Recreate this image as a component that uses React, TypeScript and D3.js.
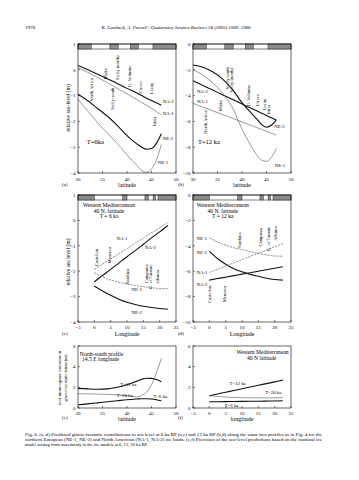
import React from 'react';
import * as d3 from 'd3';

const W = 359;
const H = 480;
const SERIF = '"Liberation Serif", "DejaVu Serif", serif';

// ---------- data ----------
const latGrid = [30, 32, 34, 36, 38, 40, 42, 43, 44, 45, 46, 47];
const lonGrid = [0, 2.5, 5, 7.5, 10, 12.5, 15, 17.5, 20, 22.5];

// (a) T = 6 ka, north-south profile
const aNA2 = [0.17, 0.0, -0.17, -0.35, -0.53, -0.72, -0.9, -1.0, -1.1, -1.19, -1.28, -1.37];
const aNA1 = [0.08, -0.1, -0.3, -0.5, -0.72, -0.93, -1.15, -1.27, -1.38, -1.5, -1.62, -1.75];
const aNE2 = [-0.95, -1.2, -1.5, -1.8, -2.15, -2.55, -2.87, -3.0, -3.08, -3.05, -2.85, -2.48];
const aNE1 = [-1.15, -1.6, -2.05, -2.45, -2.85, -3.3, -3.7, -3.9, -3.97, -3.85, -3.5, -2.9];

// (b) T = 12 ka, north-south profile
const bNE2 = [-1.63, -1.8, -2.15, -2.7, -3.5, -4.55, -5.4, -5.8, -6.25, -6.45, -6.3, -5.9];
const bNA2 = [-2.85, -3.21, -3.57, -3.93, -4.29, -4.65, -5.0, -5.18, -5.36, -5.54, -5.72, -5.9];
const bNE1 = [-2.0, -2.4, -3.0, -3.8, -4.9, -6.6, -8.0, -8.6, -9.0, -9.1, -8.8, -8.1];
const bNA1 = [-4.6, -4.89, -5.18, -5.46, -5.75, -6.04, -6.33, -6.48, -6.62, -6.76, -6.91, -7.05];

// (c) T = 6 ka, western Mediterranean 40N
const cNA1 = [-1.93, -1.72, -1.52, -1.31, -1.11, -0.9, -0.7, -0.49, -0.29, -0.08];
const cNA2 = [-2.42, -2.17, -1.93, -1.68, -1.43, -1.19, -0.94, -0.69, -0.45, -0.2];
const cNE1 = [-2.06, -2.22, -2.35, -2.43, -2.5, -2.56, -2.61, -2.65, -2.68, -2.69];
const cNE2 = [-2.58, -2.78, -2.95, -3.1, -3.22, -3.31, -3.38, -3.43, -3.47, -3.5];

// (d) T = 12 ka, western Mediterranean 40N
const dNE1 = [-3.38, -3.7, -3.95, -4.15, -4.3, -4.45, -4.6, -4.72, -4.8, -4.82];
const dNE2 = [-4.43, -5.0, -5.45, -5.8, -6.05, -6.25, -6.4, -6.55, -6.65, -6.7];
const dNA1 = [-6.1, -5.85, -5.6, -5.34, -5.09, -4.84, -4.59, -4.34, -4.08, -3.83];
const dNA2 = [-6.7, -6.58, -6.47, -6.35, -6.23, -6.12, -6.0, -5.88, -5.77, -5.65];

// (e) rms variation, north-south profile
const eT12 = [1.9, 1.85, 1.82, 1.85, 2.0, 2.25, 2.6, 2.78, 2.88, 2.87, 2.75, 2.55];
const eT20 = [1.38, 1.37, 1.35, 1.32, 1.27, 1.2, 1.08, 1.2, 1.55, 2.25, 3.4, 4.8];
const eT6 = [0.31, 0.4, 0.5, 0.6, 0.7, 0.8, 0.87, 0.9, 0.9, 0.87, 0.8, 0.7];

// (f) rms variation, western Mediterranean
const fT12 = [1.19, 1.36, 1.53, 1.69, 1.86, 2.03, 2.2, 2.36, 2.53, 2.7];
const fT20 = [1.2, 1.12, 1.06, 1.02, 1.0, 0.98, 0.98, 0.98, 0.99, 1.0];
const fT6 = [0.6, 0.61, 0.62, 0.63, 0.64, 0.65, 0.66, 0.67, 0.68, 0.7];

// ticks
const latTicks = [30, 35, 40, 45, 50];
const lonTicks = [-5, 0, 5, 10, 15, 20, 25];
const rslTicksSmall = [1, 0, -1, -2, -3, -4];
const rslTicksLarge = [0, -2, -4, -6, -8, -10];
const rmsTicks = [0, 2, 4, 6];

// land / sea bars along the profiles
const latLandBands = [[30, 32.7], [36.5, 38.2], [40.7, 42.3], [45.3, 50]];
const lonLandBands = [[-5, 0], [8.7, 10], [15.5, 16.5], [18, 18.7], [19.5, 25]];

// site names
const nsSites = ['North Africa', 'Malta', 'Sicily-south', 'Sicily (north)', 'G. Volturno', 'Circeo', 'Losinj', 'Istria'];
const ewSites = ['Castellon', 'Menorca', 'Sardinia', 'Campania', 'G. of Taranto', 'Albania'];

// site label anchors (data units)
const aSiteLat = [32.8, 35.6, 37.0, 38.1, 40.5, 42.8, 44.9, 45.6];
const aSiteVal = [-0.78, -0.16, -1.12, 0.08, -0.25, -0.68, -0.72, -2.0];
const bSiteLat = [32.45, 35.5, 37.1, 37.75, 41.4, 43.05, 44.6, 45.3];
const bSiteVal = [-6.05, -4.8, -2.65, -2.8, -4.0, -4.35, -4.7, -5.1];
const cSiteLon = [0.5, 4.6, 10.1, 15.8, 17.3, 19.3];
const cSiteVal = [-1.46, -1.38, -2.2, -2.1, -2.22, -2.24];
const dSiteLon = [0.1, 4.7, 9.3, 15.7, 18.0, 20.1];
const dSiteVal = [-7.8, -7.8, -3.55, -3.32, -3.45, -3.05];

const iceNames = ['NA-2', 'NA-1', 'NE-2', 'NE-1'];
const epochNames = ['T=12 ka', 'T=20 ka', 'T=6 ka'];

// ---------- drawing ----------
const THICK = { stroke: '#111', width: 1.1, dash: undefined as string | undefined };
const THIN = { stroke: '#555', width: 0.6, dash: undefined as string | undefined };
const THIN_D = { stroke: '#666', width: 0.7, dash: '2.2,1' };

type Series = { xs: number[]; ys: number[]; st: { stroke: string; width: number; dash?: string } };
type Label = { t: string; x: number; y: number; rot?: boolean; anchor?: string; size?: number };

type PanelDef = {
  id: string;
  x0: number; x1: number; y0: number; y1: number;
  xd: [number, number]; yd: [number, number];
  xt: number[]; yt: number[];
  bands?: number[][];
  series: Series[];
  labels: Label[];
  xTitle: string;
  tickGap: number;
  titleGap: number;
};

function Panel({ p }: { p: PanelDef }) {
  const x = d3.scaleLinear().domain(p.xd).range([p.x0, p.x1]);
  const y = d3.scaleLinear().domain(p.yd).range([p.y1, p.y0]);
  const line = d3
    .line<[number, number]>()
    .x((d) => x(d[0]))
    .y((d) => y(d[1]))
    .curve(d3.curveMonotoneX);
  const clipId = 'clip-' + p.id;
  return (
    <g>
      <defs>
        <clipPath id={clipId}>
          <rect x={p.x0} y={p.y0} width={p.x1 - p.x0} height={p.y1 - p.y0} />
        </clipPath>
      </defs>
      {p.bands && (
        <g>
          <rect x={p.x0} y={p.y0} width={p.x1 - p.x0} height={5} fill="#fff" stroke="#000" strokeWidth={0.5} />
          {p.bands.map((b, i) => (
            <rect key={i} x={x(b[0])} y={p.y0} width={x(b[1]) - x(b[0])} height={5} fill="#8c8c8c" stroke="#000" strokeWidth={0.4} />
          ))}
        </g>
      )}
      <g clipPath={`url(#${clipId})`}>
        {p.series.map((s, i) => (
          <path
            key={i}
            d={line(s.xs.map((v, k) => [v, s.ys[k]] as [number, number])) || ''}
            fill="none"
            stroke={s.st.stroke}
            strokeWidth={s.st.width}
            strokeDasharray={s.st.dash}
          />
        ))}
      </g>
      <rect x={p.x0} y={p.y0} width={p.x1 - p.x0} height={p.y1 - p.y0} fill="none" stroke="#000" strokeWidth={0.6} />
      {p.xt.map((t) => (
        <g key={'x' + t}>
          <line x1={x(t)} x2={x(t)} y1={p.y1} y2={p.y1 - 2} stroke="#000" strokeWidth={0.5} />
          <text x={x(t)} y={p.y1 + p.tickGap} fontSize={5} textAnchor="middle" fontFamily={SERIF}>
            {t < 0 ? '\u2212' + Math.abs(t) : t}
          </text>
        </g>
      ))}
      {p.yt.map((t) => (
        <g key={'y' + t}>
          <line x1={p.x0} x2={p.x0 + 2} y1={y(t)} y2={y(t)} stroke="#000" strokeWidth={0.5} />
          <text x={p.x0 - 2.5} y={y(t) + 1.7} fontSize={5} textAnchor="end" fontFamily={SERIF}>
            {t < 0 ? '\u2212' + Math.abs(t) : t}
          </text>
        </g>
      ))}
      <text x={(p.x0 + p.x1) / 2} y={p.y1 + p.titleGap} fontSize={6} textAnchor="middle" fontFamily={SERIF}>
        {p.xTitle}
      </text>
      {p.labels.map((l, i) =>
        l.rot ? (
          <text
            key={i}
            transform={`translate(${x(l.x)},${y(l.y)}) rotate(-90)`}
            fontSize={l.size || 4.6}
            textAnchor={l.anchor || 'middle'}
            dy="0.35em"
            fontFamily={SERIF}
          >
            {l.t}
          </text>
        ) : (
          <text key={i} x={x(l.x)} y={y(l.y)} dy="0.35em" fontSize={l.size || 4.8} textAnchor={l.anchor || 'start'} fontFamily={SERIF}>
            {l.t}
          </text>
        )
      )}
    </g>
  );
}

const colA = { x0: 78, x1: 176 };
const colB = { x0: 193, x1: 291 };
const rowTop = { y0: 44, y1: 173 };
const rowMid = { y0: 195, y1: 322 };
const rowBot = { y0: 346, y1: 408 };

const sitesLabels = (names: string[], xs: number[], ys: number[]): Label[] =>
  names.map((t, i) => ({ t, x: xs[i], y: ys[i], rot: true }));

const panels: PanelDef[] = [
  {
    id: 'a', ...colA, ...rowTop, xd: [30, 50], yd: [-4, 1], xt: latTicks, yt: rslTicksSmall,
    bands: latLandBands, xTitle: 'latitude', tickGap: 7.5, titleGap: 13.5,
    series: [
      { xs: latGrid, ys: aNA2, st: THICK },
      { xs: latGrid, ys: aNA1, st: THIN },
      { xs: latGrid, ys: aNE2, st: THICK },
      { xs: latGrid, ys: aNE1, st: THIN },
    ],
    labels: [
      ...sitesLabels(nsSites, aSiteLat, aSiteVal),
      { t: iceNames[0], x: 47.3, y: -1.24 },
      { t: iceNames[1], x: 47.3, y: -1.67 },
      { t: iceNames[2], x: 47.3, y: -2.64 },
      { t: iceNames[3], x: 46.3, y: -3.6 },
      { t: 'T=6ka', x: 31.8, y: -2.78, size: 6.5 },
    ],
  },
  {
    id: 'b', ...colB, ...rowTop, xd: [30, 50], yd: [-10, 0], xt: latTicks, yt: rslTicksLarge,
    bands: latLandBands, xTitle: 'latitude', tickGap: 7.5, titleGap: 13.5,
    series: [
      { xs: latGrid, ys: bNE2, st: THICK },
      { xs: latGrid, ys: bNA2, st: THICK },
      { xs: latGrid, ys: bNE1, st: THIN },
      { xs: latGrid, ys: bNA1, st: THIN },
    ],
    labels: [
      ...sitesLabels(nsSites, bSiteLat, bSiteVal),
      { t: iceNames[0], x: 30.8, y: -3.7 },
      { t: iceNames[1], x: 30.8, y: -4.47 },
      { t: iceNames[2], x: 46.6, y: -6.41 },
      { t: iceNames[3], x: 46.7, y: -9.38 },
      { t: 'T=12 ka', x: 31.0, y: -7.55, size: 6.5 },
    ],
  },
  {
    id: 'c', ...colA, ...rowMid, xd: [-5, 25], yd: [-4, 1], xt: lonTicks, yt: rslTicksSmall,
    bands: lonLandBands, xTitle: 'Longitude', tickGap: 6.5, titleGap: 13.5,
    series: [
      { xs: lonGrid, ys: cNA1, st: THIN_D },
      { xs: lonGrid, ys: cNA2, st: THICK },
      { xs: lonGrid, ys: cNE1, st: THIN_D },
      { xs: lonGrid, ys: cNE2, st: THICK },
    ],
    labels: [
      ...sitesLabels(ewSites, cSiteLon, cSiteVal),
      { t: iceNames[1], x: 6.8, y: -0.71 },
      { t: iceNames[0], x: 15.5, y: -1.06 },
      { t: iceNames[3], x: 11.4, y: -2.71 },
      { t: iceNames[2], x: 11.4, y: -3.6 },
      { t: 'Western Mediterranean', x: 4.5, y: 0.6, anchor: 'middle', size: 5.6 },
      { t: '40 N. latitude', x: 4.5, y: 0.38, anchor: 'middle', size: 5.6 },
      { t: 'T = 6 ka', x: 4.5, y: 0.17, anchor: 'middle', size: 5.6 },
    ],
  },
  {
    id: 'd', ...colB, ...rowMid, xd: [-5, 25], yd: [-10, 0], xt: lonTicks, yt: rslTicksLarge,
    bands: lonLandBands, xTitle: 'Longitude', tickGap: 6.5, titleGap: 13.5,
    series: [
      { xs: lonGrid, ys: dNE1, st: THIN_D },
      { xs: lonGrid, ys: dNE2, st: THICK },
      { xs: lonGrid, ys: dNA1, st: THIN_D },
      { xs: lonGrid, ys: dNA2, st: THICK },
    ],
    labels: [
      ...sitesLabels(ewSites, dSiteLon, dSiteVal),
      { t: iceNames[3], x: -3.9, y: -3.38 },
      { t: iceNames[2], x: -3.9, y: -4.51 },
      { t: iceNames[1], x: -3.9, y: -6.07 },
      { t: iceNames[0], x: -3.9, y: -7.03 },
      { t: 'Western Mediterranean', x: 4.1, y: -0.8, anchor: 'middle', size: 5.6 },
      { t: '40 N. latitude', x: 4.1, y: -1.25, anchor: 'middle', size: 5.6 },
      { t: 'T = 12 ka', x: 4.1, y: -1.65, anchor: 'middle', size: 5.6 },
    ],
  },
  {
    id: 'e', ...colA, ...rowBot, xd: [30, 50], yd: [0, 6], xt: latTicks, yt: rmsTicks,
    xTitle: 'latitude', tickGap: 7, titleGap: 12.5,
    series: [
      { xs: latGrid, ys: eT12, st: THICK },
      { xs: latGrid, ys: eT20, st: THIN },
      { xs: latGrid, ys: eT6, st: THICK },
    ],
    labels: [
      { t: epochNames[0], x: 38.6, y: 2.32 },
      { t: epochNames[1], x: 37.9, y: 1.26 },
      { t: epochNames[2], x: 45.4, y: 1.09 },
      { t: 'North-south profile', x: 34.8, y: 5.25, anchor: 'middle', size: 5.6 },
      { t: '14.5 E longitude', x: 34.6, y: 4.75, anchor: 'middle', size: 5.6 },
    ],
  },
  {
    id: 'f', ...colB, ...rowBot, xd: [-5, 25], yd: [0, 6], xt: lonTicks, yt: rmsTicks,
    xTitle: 'longitude', tickGap: 7, titleGap: 12.5,
    series: [
      { xs: lonGrid, ys: fT12, st: THICK },
      { xs: lonGrid, ys: fT20, st: THIN },
      { xs: lonGrid, ys: fT6, st: THICK },
    ],
    labels: [
      { t: epochNames[0], x: 6.2, y: 2.39 },
      { t: epochNames[1], x: 17.1, y: 1.52 },
      { t: epochNames[2], x: 4.7, y: 0.29 },
      { t: 'Western Mediterranean', x: 16.3, y: 5.45, anchor: 'middle', size: 5.6 },
      { t: '40 N latitude', x: 16.0, y: 4.87, anchor: 'middle', size: 5.6 },
    ],
  },
];

const captionLines = [
  'Fig. 6. (a\u2013d) Predicted glacio-isostatic contributions to sea level at 6 ka BP (a,c) and 12 ka BP (b,d) along the same two profiles as in Fig. 4 for the',
  'northern European (NE-1, NE-2) and North American (NA-1, NA-2) ice loads. (e,f) Precision of the sea-level predictions based on the nominal ice',
  'model arising from uncertainty in the ice models at 6, 12, 20 ka BP.',
];

export default function App() {
  return (
    <svg
      width={W}
      height={H}
      viewBox={`0 0 ${W} ${H}`}
      style={{ position: 'absolute', left: 0, top: 0, background: '#fff' }}
      fontFamily={SERIF}
    >
      <rect x={0} y={0} width={W} height={H} fill="#fff" />
      <text x={25} y={29} fontSize={5}>1978</text>
      <text x={176} y={29} fontSize={4.9} fontStyle="italic" textAnchor="middle">
        K. Lambeck, A. Purcell / Quaternary Science Reviews 24 (2005) 1969–1988
      </text>
      {panels.map((p) => (
        <Panel key={p.id} p={p} />
      ))}
      {/* panel letters */}
      <text x={62} y={186} fontSize={5}>(a)</text>
      <text x={178} y={186} fontSize={5}>(b)</text>
      <text x={62} y={335} fontSize={5}>(c)</text>
      <text x={178} y={335} fontSize={5}>(d)</text>
      <text x={62} y={419} fontSize={5}>(e)</text>
      <text x={178} y={419} fontSize={5}>(f)</text>
      {/* y axis titles */}
      <text transform="translate(70,108) rotate(-90)" fontSize={5.6} textAnchor="middle">
        relative sea-level (m)
      </text>
      <text transform="translate(70,262) rotate(-90)" fontSize={5.6} textAnchor="middle">
        relative sea level (m)
      </text>
      <text transform="translate(61,378) rotate(-90)" fontSize={4.6} textAnchor="middle">
        root-mean-square variation in
      </text>
      <text transform="translate(66.5,378) rotate(-90)" fontSize={4.6} textAnchor="middle">
        glacio-isostatic terms (m)
      </text>
      {captionLines.map((l, i) => (
        <text key={i} x={25} y={436 + i * 5} fontSize={4.55} textLength={i < 2 ? 297 : undefined} lengthAdjust="spacingAndGlyphs">
          {l}
        </text>
      ))}
    </svg>
  );
}
